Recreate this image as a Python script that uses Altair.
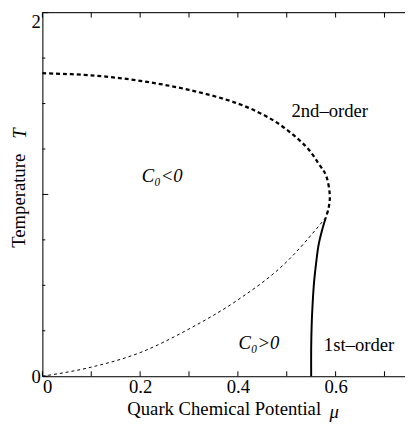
import altair as alt
import pandas as pd

# ---- data ----
mu_2nd = [0.0, 0.1, 0.2, 0.3, 0.4, 0.477, 0.537, 0.565, 0.581, 0.588, 0.586, 0.58]
T_2nd = [1.667, 1.655, 1.625, 1.575, 1.50, 1.40, 1.27, 1.17, 1.10, 1.0, 0.93, 0.873]

mu_c0 = [0.0, 0.1, 0.2, 0.3, 0.4, 0.5, 0.58]
T_c0 = [0.0, 0.05, 0.13, 0.26, 0.42, 0.63, 0.873]

mu_1st = [0.58, 0.572, 0.565, 0.56, 0.556, 0.553, 0.551, 0.55, 0.55]
T_1st = [0.873, 0.80, 0.72, 0.62, 0.52, 0.40, 0.28, 0.15, 0.0]

label_text = ["2nd\u2013order", "C\u2080<0", "C\u2080>0", "1st\u2013order"]
label_mu = [0.588, 0.245, 0.443, 0.648]
label_T = [1.46, 1.10, 0.183, 0.172]
label_style = ["normal", "italic", "italic", "normal"]

x_labels = [0, 0.2, 0.4, 0.6]
x_ticks = [0, 0.1, 0.2, 0.3, 0.4, 0.5, 0.6, 0.7]
y_labels = [0, 1, 2]
y_minor = [0.25, 0.5, 0.75, 1.25, 1.5, 1.75]

X_DOMAIN = [0, 0.742]
Y_DOMAIN = [0, 2]
W, H = 369, 370
FONT = "Liberation Serif"
FS = 19

xs = alt.Scale(domain=X_DOMAIN, nice=False, zero=False)
ys = alt.Scale(domain=Y_DOMAIN, nice=False, zero=False)

def curve(mu, T):
    return pd.DataFrame({"mu": mu, "T": T, "i": list(range(len(mu)))})

X_main = alt.X("mu:Q", scale=xs,
               axis=alt.Axis(values=x_labels, ticks=False, grid=False,
                             labelExpr="datum.value == 0 ? '0' : format(datum.value, '.1f')",
                             labelFont=FONT, labelFontSize=FS, labelColor="black",
                             labelPadding=2, title="Quark Chemical Potential",
                             titleFont=FONT, titleFontSize=FS, titleFontWeight="normal",
                             titleColor="black", titlePadding=3,
                             domainColor="black", domainWidth=1))
Y_main = alt.Y("T:Q", scale=ys,
               axis=alt.Axis(values=y_labels, ticks=False, grid=False, format="d",
                             labelFont=FONT, labelFontSize=FS, labelColor="black",
                             labelPadding=2,
                             labelBaseline=alt.condition("datum.value == 2", alt.value("top"), alt.value("middle")),
                             title="Temperature",
                             titleFont=FONT, titleFontSize=FS, titleFontWeight="normal",
                             titleColor="black", titlePadding=3, titleY=191,
                             domainColor="black", domainWidth=1))
X_o = alt.X("mu:Q", scale=xs)
Y_o = alt.Y("T:Q", scale=ys)

second = alt.Chart(curve(mu_2nd, T_2nd)).mark_line(
    color="black", strokeWidth=2.3, strokeDash=[4, 3], interpolate="cardinal"
).encode(x=X_main, y=Y_main, order="i:Q")

c0line = alt.Chart(curve(mu_c0, T_c0)).mark_line(
    color="black", strokeWidth=1, strokeDash=[3, 3], interpolate="monotone"
).encode(x=X_o, y=Y_o, order="i:Q")

first = alt.Chart(curve(mu_1st, T_1st)).mark_line(
    color="black", strokeWidth=2, interpolate="cardinal"
).encode(x=X_o, y=Y_o, order="i:Q")

lab_df = pd.DataFrame({"text": label_text, "mu": label_mu, "T": label_T, "style": label_style})
labels_normal = alt.Chart(lab_df[lab_df["style"] == "normal"]).mark_text(
    font=FONT, fontSize=FS, color="black"
).encode(x=X_o, y=Y_o, text="text:N")
labels_italic = alt.Chart(lab_df[lab_df["style"] == "italic"]).mark_text(
    font=FONT, fontSize=FS, fontStyle="italic", color="black"
).encode(x=X_o, y=Y_o, text="text:N")

# ticks pointing inward
xt_df = pd.DataFrame({"mu": x_ticks})
xt_bottom = alt.Chart(xt_df).mark_rule(color="black", strokeWidth=1).encode(
    x=X_o, y=alt.value(H), y2=alt.value(H - 5))
xt_top = alt.Chart(xt_df).mark_rule(color="black", strokeWidth=1).encode(
    x=X_o, y=alt.value(0), y2=alt.value(5))
ymaj = alt.Chart(pd.DataFrame({"T": y_labels})).mark_rule(color="black", strokeWidth=1).encode(
    y=Y_o, x=alt.value(0), x2=alt.value(6))
ymin = alt.Chart(pd.DataFrame({"T": y_minor})).mark_rule(color="black", strokeWidth=1).encode(
    y=Y_o, x=alt.value(0), x2=alt.value(3))
top_border = alt.Chart(pd.DataFrame({"a": [0]})).mark_rule(color="black", strokeWidth=1).encode(
    x=alt.value(0), x2=alt.value(W), y=alt.value(0))

mu_sym = alt.Chart(pd.DataFrame({"s": ["\u03bc"]})).mark_text(
    font=FONT, fontSize=FS, fontStyle="italic", color="black").encode(
    x=alt.value(297), y=alt.value(H + 36), text="s:N")
t_sym = alt.Chart(pd.DataFrame({"s": ["T"]})).mark_text(
    font=FONT, fontSize=FS, fontStyle="italic", color="black", angle=270).encode(
    x=alt.value(-23), y=alt.value(123), text="s:N")

chart = alt.layer(
    second, c0line, first, labels_normal, labels_italic,
    xt_bottom, xt_top, ymaj, ymin, top_border, mu_sym, t_sym
).properties(
    width=W, height=H,
    padding={"left": 35, "top": 1, "right": 0, "bottom": 51},
    autosize=alt.AutoSizeParams(type="none"),
).configure_view(stroke=None).configure(
    background="white", font=FONT
).configure_text(font=FONT)

chart.save("out.html", embed_options={"renderer": "svg", "actions": False})
